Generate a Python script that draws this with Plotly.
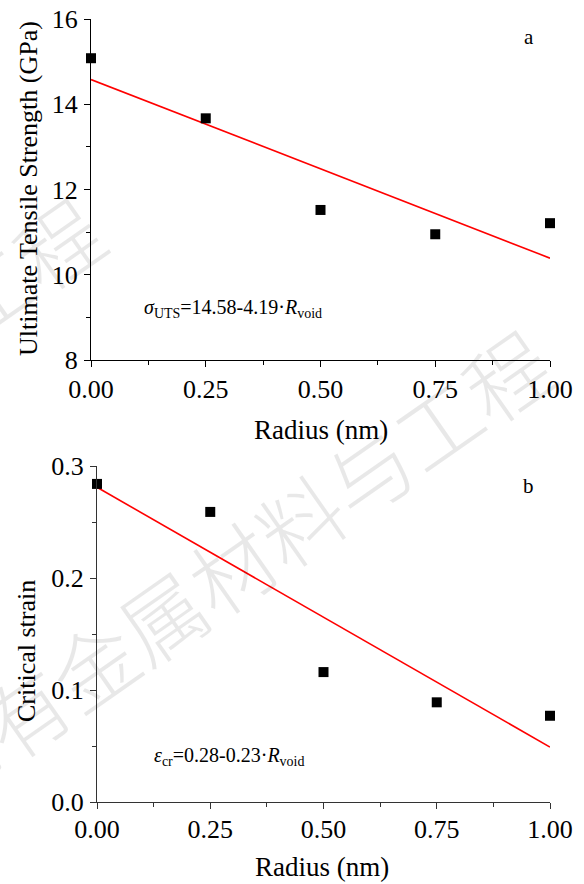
import plotly.graph_objects as go

# ---------------- data ----------------
radius = [0.0, 0.25, 0.5, 0.75, 1.0]
uts = [15.08, 13.67, 11.52, 10.95, 11.21]
strain = [0.284, 0.259, 0.116, 0.089, 0.077]

fit_x = [0.0, 1.0]
uts_fit = [14.58, 10.39]
strain_fit = [0.281, 0.049]

x_ticks = [0.0, 0.25, 0.5, 0.75, 1.0]
uts_ticks = [8, 10, 12, 14, 16]
strain_ticks = [0.0, 0.1, 0.2, 0.3]

W, H = 584, 884
SERIF = "'Liberation Serif', 'Times New Roman', Tinos, 'DejaVu Serif', serif"
CJK = "'Noto Sans CJK SC', sans-serif"


def xp(px):
    return px / W


def yp(py):
    return 1 - py / H


fig = go.Figure()

# top panel
fig.add_trace(go.Scatter(x=fit_x, y=uts_fit, mode="lines",
                         line=dict(color="#ff0000", width=1.6),
                         xaxis="x", yaxis="y", showlegend=False, cliponaxis=False))
fig.add_trace(go.Scatter(x=radius, y=uts, mode="markers",
                         marker=dict(symbol="square", size=10, color="black"),
                         xaxis="x", yaxis="y", showlegend=False, cliponaxis=False))
# bottom panel
fig.add_trace(go.Scatter(x=fit_x, y=strain_fit, mode="lines",
                         line=dict(color="#ff0000", width=1.6),
                         xaxis="x2", yaxis="y2", showlegend=False, cliponaxis=False))
fig.add_trace(go.Scatter(x=radius, y=strain, mode="markers",
                         marker=dict(symbol="square", size=10, color="black"),
                         xaxis="x2", yaxis="y2", showlegend=False, cliponaxis=False))

axis_common = dict(showline=True, linecolor="black", linewidth=1.3, mirror=False,
                   showgrid=False, zeroline=False, ticks="outside", ticklen=6,
                   tickwidth=1.2, tickcolor="black", automargin=False,
                   tickfont=dict(family=SERIF, size=26, color="black"))

bot_axis = dict(axis_common)
bot_axis.update(linecolor="#333333", tickcolor="#333333")

fig.update_layout(
    width=W, height=H,
    margin=dict(l=0, r=0, t=0, b=0, autoexpand=False),
    font=dict(family=SERIF),
    paper_bgcolor="white", plot_bgcolor="rgba(0,0,0,0)",
    xaxis=dict(axis_common, domain=[xp(91), xp(550)], range=[0, 1], anchor="y",
               tickvals=x_ticks, tickformat=".2f",
               minor=dict(ticks="outside", ticklen=4, dtick=0.125, tickcolor="black", tickwidth=1.2),
               ticklabelstandoff=0),
    yaxis=dict(axis_common, domain=[yp(360), yp(19)], range=[8, 16], anchor="x",
               tickvals=uts_ticks,
               minor=dict(ticks="outside", ticklen=4, dtick=1, tickcolor="black", tickwidth=1.2),
               ticklabelstandoff=1),
    xaxis2=dict(bot_axis, domain=[xp(97), xp(550)], range=[0, 1], anchor="y2",
                tickvals=x_ticks, tickformat=".2f",
                minor=dict(ticks="outside", ticklen=4, dtick=0.125, tickcolor="#333333", tickwidth=1.2),
                ticklabelstandoff=-2),
    yaxis2=dict(bot_axis, domain=[yp(802), yp(466)], range=[0, 0.3], anchor="x2",
                tickvals=strain_ticks, tickformat=".1f",
                minor=dict(ticks="outside", ticklen=4, dtick=0.05, tickcolor="#333333", tickwidth=1.2),
                ticklabelstandoff=1),
)

ann = []
# watermark
for txt, cx, cy in [("稀有金属材料与工程", 230, 566), ("与工程", -12, 290)]:
    ann.append(dict(text=txt, x=xp(cx), y=yp(cy), xref="paper", yref="paper",
                    showarrow=False, textangle=-35, xanchor="center", yanchor="middle",
                    font=dict(family=CJK, size=84, color="rgba(0,0,0,0.09)", weight=300)))

# axis titles
titles = [
    dict(text="Radius (nm)", x=xp(321), y=yp(430), size=27),
    dict(text="Radius (nm)", x=xp(322), y=yp(867), size=27),
    dict(text="Ultimate Tensile Strength (GPa)", x=xp(28), y=yp(189), textangle=-90, size=26),
    dict(text="Critical strain", x=xp(26), y=yp(651), textangle=-90, size=26),
]
for a in titles:
    size = a.pop("size")
    a.update(xref="paper", yref="paper", showarrow=False, xanchor="center", yanchor="middle",
             font=dict(family=SERIF, size=size, color="black"))
    ann.append(a)

# panel labels and equations
small = [
    dict(text="a", x=xp(529), y=yp(37), size=21, xanchor="center"),
    dict(text="b", x=xp(528), y=yp(486), size=21, xanchor="center"),
    dict(text="<i>σ</i><sub>UTS</sub>=14.58-4.19·<i>R</i><sub>void</sub>", x=xp(142), y=yp(308), size=20, xanchor="left"),
    dict(text="<i>ε</i><sub>cr</sub>=0.28-0.23·<i>R</i><sub>void</sub>", x=xp(152), y=yp(756), size=20, xanchor="left"),
]
for s in small:
    ann.append(dict(text=s["text"], x=s["x"], y=s["y"], xref="paper", yref="paper",
                    showarrow=False, xanchor=s["xanchor"], yanchor="middle",
                    font=dict(family=SERIF, size=s["size"], color="black")))

fig.update_layout(annotations=ann)
fig.write_html("out.html")
